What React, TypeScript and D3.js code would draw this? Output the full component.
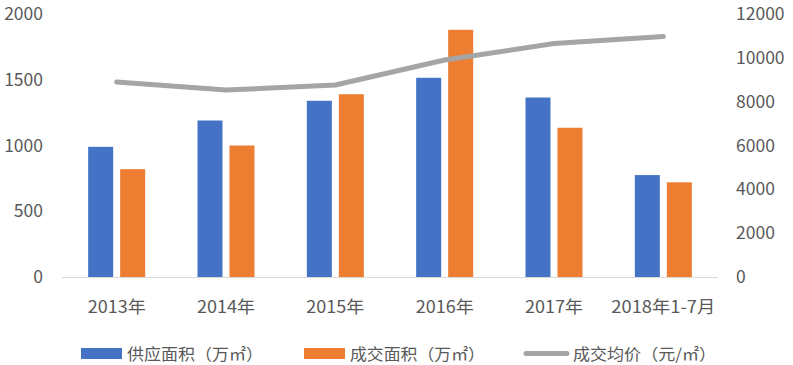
import React from "react";
import * as d3 from "d3";

const categories = ["2013年", "2014年", "2015年", "2016年", "2017年", "2018年1-7月"];
const supply = [990, 1190, 1340, 1515, 1365, 775];
const deal = [820, 1000, 1390, 1880, 1135, 720];
const price = [8900, 8530, 8760, 9900, 10650, 10970];
const leftTicks = [0, 500, 1000, 1500, 2000];
const rightTicks = [0, 2000, 4000, 6000, 8000, 10000, 12000];
const legendLabels = ["供应面积（万㎡）", "成交面积（万㎡）", "成交均价（元/㎡）"];

const W = 793, H = 365;
const FONT = "'Noto Sans CJK SC', 'Noto Sans', sans-serif";
const BLUE = "#4472c4", ORANGE = "#ed7d31", GRAY = "#a5a5a5", TXT = "#595959";

export default function App() {
  const x = d3.scaleBand<string>().domain(categories).range([62, 718]);
  const yL = d3.scaleLinear().domain([0, 2000]).range([277, 14]);
  const yR = d3.scaleLinear().domain([0, 12000]).range([277, 14]);
  const bw = 25, gap = 7;
  const line = d3.line<number>()
    .x((_, i) => (x(categories[i]) as number) + x.bandwidth() / 2)
    .y((d) => yR(d));
  const labelLen = [58, 58, 58, 58, 58, 104];
  const leg = [
    { sx: 81, tx: 127, tl: 136, color: BLUE },
    { sx: 304, tx: 350, tl: 135, color: ORANGE },
    { sx: 524, tx: 573, tl: 143, color: GRAY },
  ];
  return (
    <svg width={W} height={H} style={{ position: "absolute", left: 0, top: 0, background: "#fff" }} fontFamily={FONT}>
      <line x1={62} x2={718} y1={277.5} y2={277.5} stroke="#d9d9d9" strokeWidth={1} />
      {leftTicks.map((t) => (
        <text key={"l" + t} x={43} y={yL(t)} dy="0.35em" textAnchor="end" fontSize={17.5} fill={TXT}>{t}</text>
      ))}
      {rightTicks.map((t) => (
        <text key={"r" + t} x={736} y={yR(t)} dy="0.35em" textAnchor="start" fontSize={17.5} fill={TXT}>{t}</text>
      ))}
      {categories.map((c, i) => {
        const cx = (x(c) as number) + x.bandwidth() / 2;
        return (
          <g key={c}>
            <rect x={cx - gap / 2 - bw} y={yL(supply[i])} width={bw} height={yL(0) - yL(supply[i])} fill={BLUE} />
            <rect x={cx + gap / 2} y={yL(deal[i])} width={bw} height={yL(0) - yL(deal[i])} fill={ORANGE} />
            <text x={cx - labelLen[i] / 2} y={307} dy="0.35em" fontSize={17} fill={TXT}
              textLength={labelLen[i]} lengthAdjust="spacingAndGlyphs">{c}</text>
          </g>
        );
      })}
      <path d={line(price) as string} fill="none" stroke={GRAY} strokeWidth={5} strokeLinecap="round" strokeLinejoin="round" />
      {leg.map((l, i) => (
        <g key={i}>
          {i < 2 ? (
            <rect x={l.sx} y={348} width={41} height={11} fill={l.color} />
          ) : (
            <line x1={l.sx + 2} x2={l.sx + 43} y1={353.5} y2={353.5} stroke={l.color} strokeWidth={5} strokeLinecap="round" />
          )}
          <text x={l.tx} y={354} dy="0.35em" fontSize={16} fill={TXT} textLength={l.tl} lengthAdjust="spacingAndGlyphs">{legendLabels[i]}</text>
        </g>
      ))}
    </svg>
  );
}
